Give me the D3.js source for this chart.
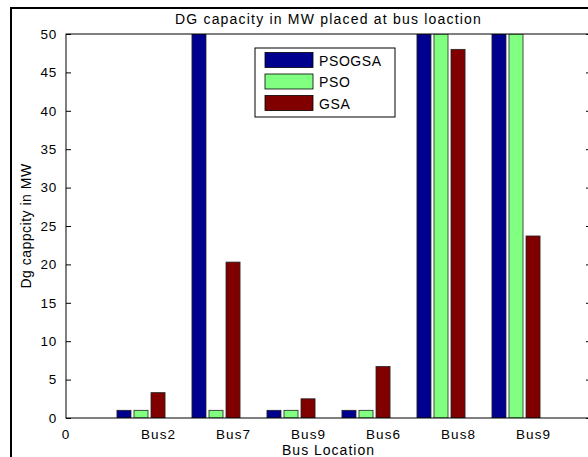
<!DOCTYPE html>
<html><head><meta charset="utf-8">
<script src="https://d3js.org/d3.v7.min.js"></script>
<style>
html,body{margin:0;padding:0;background:#fff;}
svg{display:block;}
text{font-family:"Liberation Sans",Arial,sans-serif;fill:#000;}
</style></head>
<body>
<svg id="chart" width="588" height="457"></svg>
<script>
const categories = ["Bus2","Bus7","Bus9","Bus6","Bus8","Bus9"];
const seriesNames = ["PSOGSA","PSO","GSA"];
const psogsa = [1, 50, 1, 1, 50, 50];
const pso = [1, 1, 1, 1, 50, 50];
const gsa = [3.3, 20.3, 2.5, 6.7, 48, 23.7];
const yTicks = [0,5,10,15,20,25,30,35,40,45,50];
const xTickLabels = ["0"].concat(categories);

const seriesValues = [psogsa, pso, gsa];
const colors = ["#00008F","#80FF80","#800000"];

const svg = d3.select("#chart");
const W = 588, H = 457;
const L = 66, R = 591, T = 34, B = 418;

const x = d3.scaleLinear().domain([0,7]).range([L,R]);
const y = d3.scaleLinear().domain([0,50]).range([B,T]);
const inner = d3.scaleBand().domain(seriesNames).range([-0.3205,0.3205]).paddingInner(0.176);

// outer figure frame
svg.append("rect").attr("x",11).attr("y",8).attr("width",W).attr("height",H)
  .attr("fill","none").attr("stroke","#000").attr("stroke-width",2);

svg.append("rect").attr("x",L).attr("y",T).attr("width",R-L).attr("height",B-T).attr("fill","#fff");

svg.append("defs").append("clipPath").attr("id","clip")
  .append("rect").attr("x",L).attr("y",T).attr("width",R-L).attr("height",B-T);

const g = svg.append("g").attr("clip-path","url(#clip)");
seriesNames.forEach((s,si)=>{
  g.selectAll(".bar"+si).data(seriesValues[si]).enter().append("rect")
    .attr("x",(d,i)=>x(i+1+inner(s)))
    .attr("width",(d,i)=>x(i+1+inner(s)+inner.bandwidth())-x(i+1+inner(s)))
    .attr("y",d=>y(d))
    .attr("height",d=>y(0)-y(d))
    .attr("fill",colors[si])
    .attr("stroke","#222").attr("stroke-width",0.8);
});

// axes box
svg.append("rect").attr("x",L).attr("y",T).attr("width",R-L).attr("height",B-T)
  .attr("fill","none").attr("stroke","#000").attr("stroke-width",1);

// y ticks (inward) left and right
const yAxisL = d3.axisLeft(y).tickValues(yTicks).tickSize(-5).tickPadding(9).tickFormat(d3.format("d"));
const gy = svg.append("g").attr("transform",`translate(${L},0)`).call(yAxisL);
gy.select(".domain").remove();
gy.selectAll("text").style("font-size","13.5px").style("letter-spacing","0.8px")
  .style("font-family","Liberation Sans, Arial, sans-serif");
const yAxisR = d3.axisRight(y).tickValues(yTicks).tickSize(-5).tickFormat("");
const gyr = svg.append("g").attr("transform",`translate(${R},0)`).call(yAxisR);
gyr.select(".domain").remove();

// x tick labels
svg.selectAll(".xl").data(xTickLabels).enter().append("text")
  .attr("x",(d,i)=> i===0 ? x(0) : x(i))
  .attr("y",439)
  .attr("text-anchor",(d,i)=> i===0 ? "middle" : "start")
  .style("font-size","13.5px")
  .style("letter-spacing","1.1px")
  .text(d=>d);

// title
svg.append("text").attr("x",(L+R)/2).attr("y",24).attr("text-anchor","middle")
  .style("font-size","14px").style("letter-spacing","1.2px")
  .text("DG capacity in MW placed at bus loaction");

// axis labels
svg.append("text").attr("x",(L+R)/2).attr("y",455).attr("text-anchor","middle")
  .style("font-size","14px").style("letter-spacing","1px").text("Bus Location");
svg.append("text").attr("transform",`translate(31,${(T+B)/2}) rotate(-90)`).attr("text-anchor","middle")
  .style("font-size","14px").style("letter-spacing","0.5px").text("Dg cappcity in MW");

// legend
const lg = svg.append("g");
lg.append("rect").attr("x",255).attr("y",48).attr("width",140).attr("height",69)
  .attr("fill","#fff").attr("stroke","#000").attr("stroke-width",1);
seriesNames.forEach((s,i)=>{
  const cy = 60 + i*21.5;
  lg.append("rect").attr("x",265).attr("y",cy-7.5).attr("width",48).attr("height",15)
    .attr("fill",colors[i]).attr("stroke","#000").attr("stroke-width",0.8);
  lg.append("text").attr("x",319).attr("y",cy+5.5).style("font-size","14px")
    .style("letter-spacing","0.6px").text(s);
});
</script>
</body></html>
